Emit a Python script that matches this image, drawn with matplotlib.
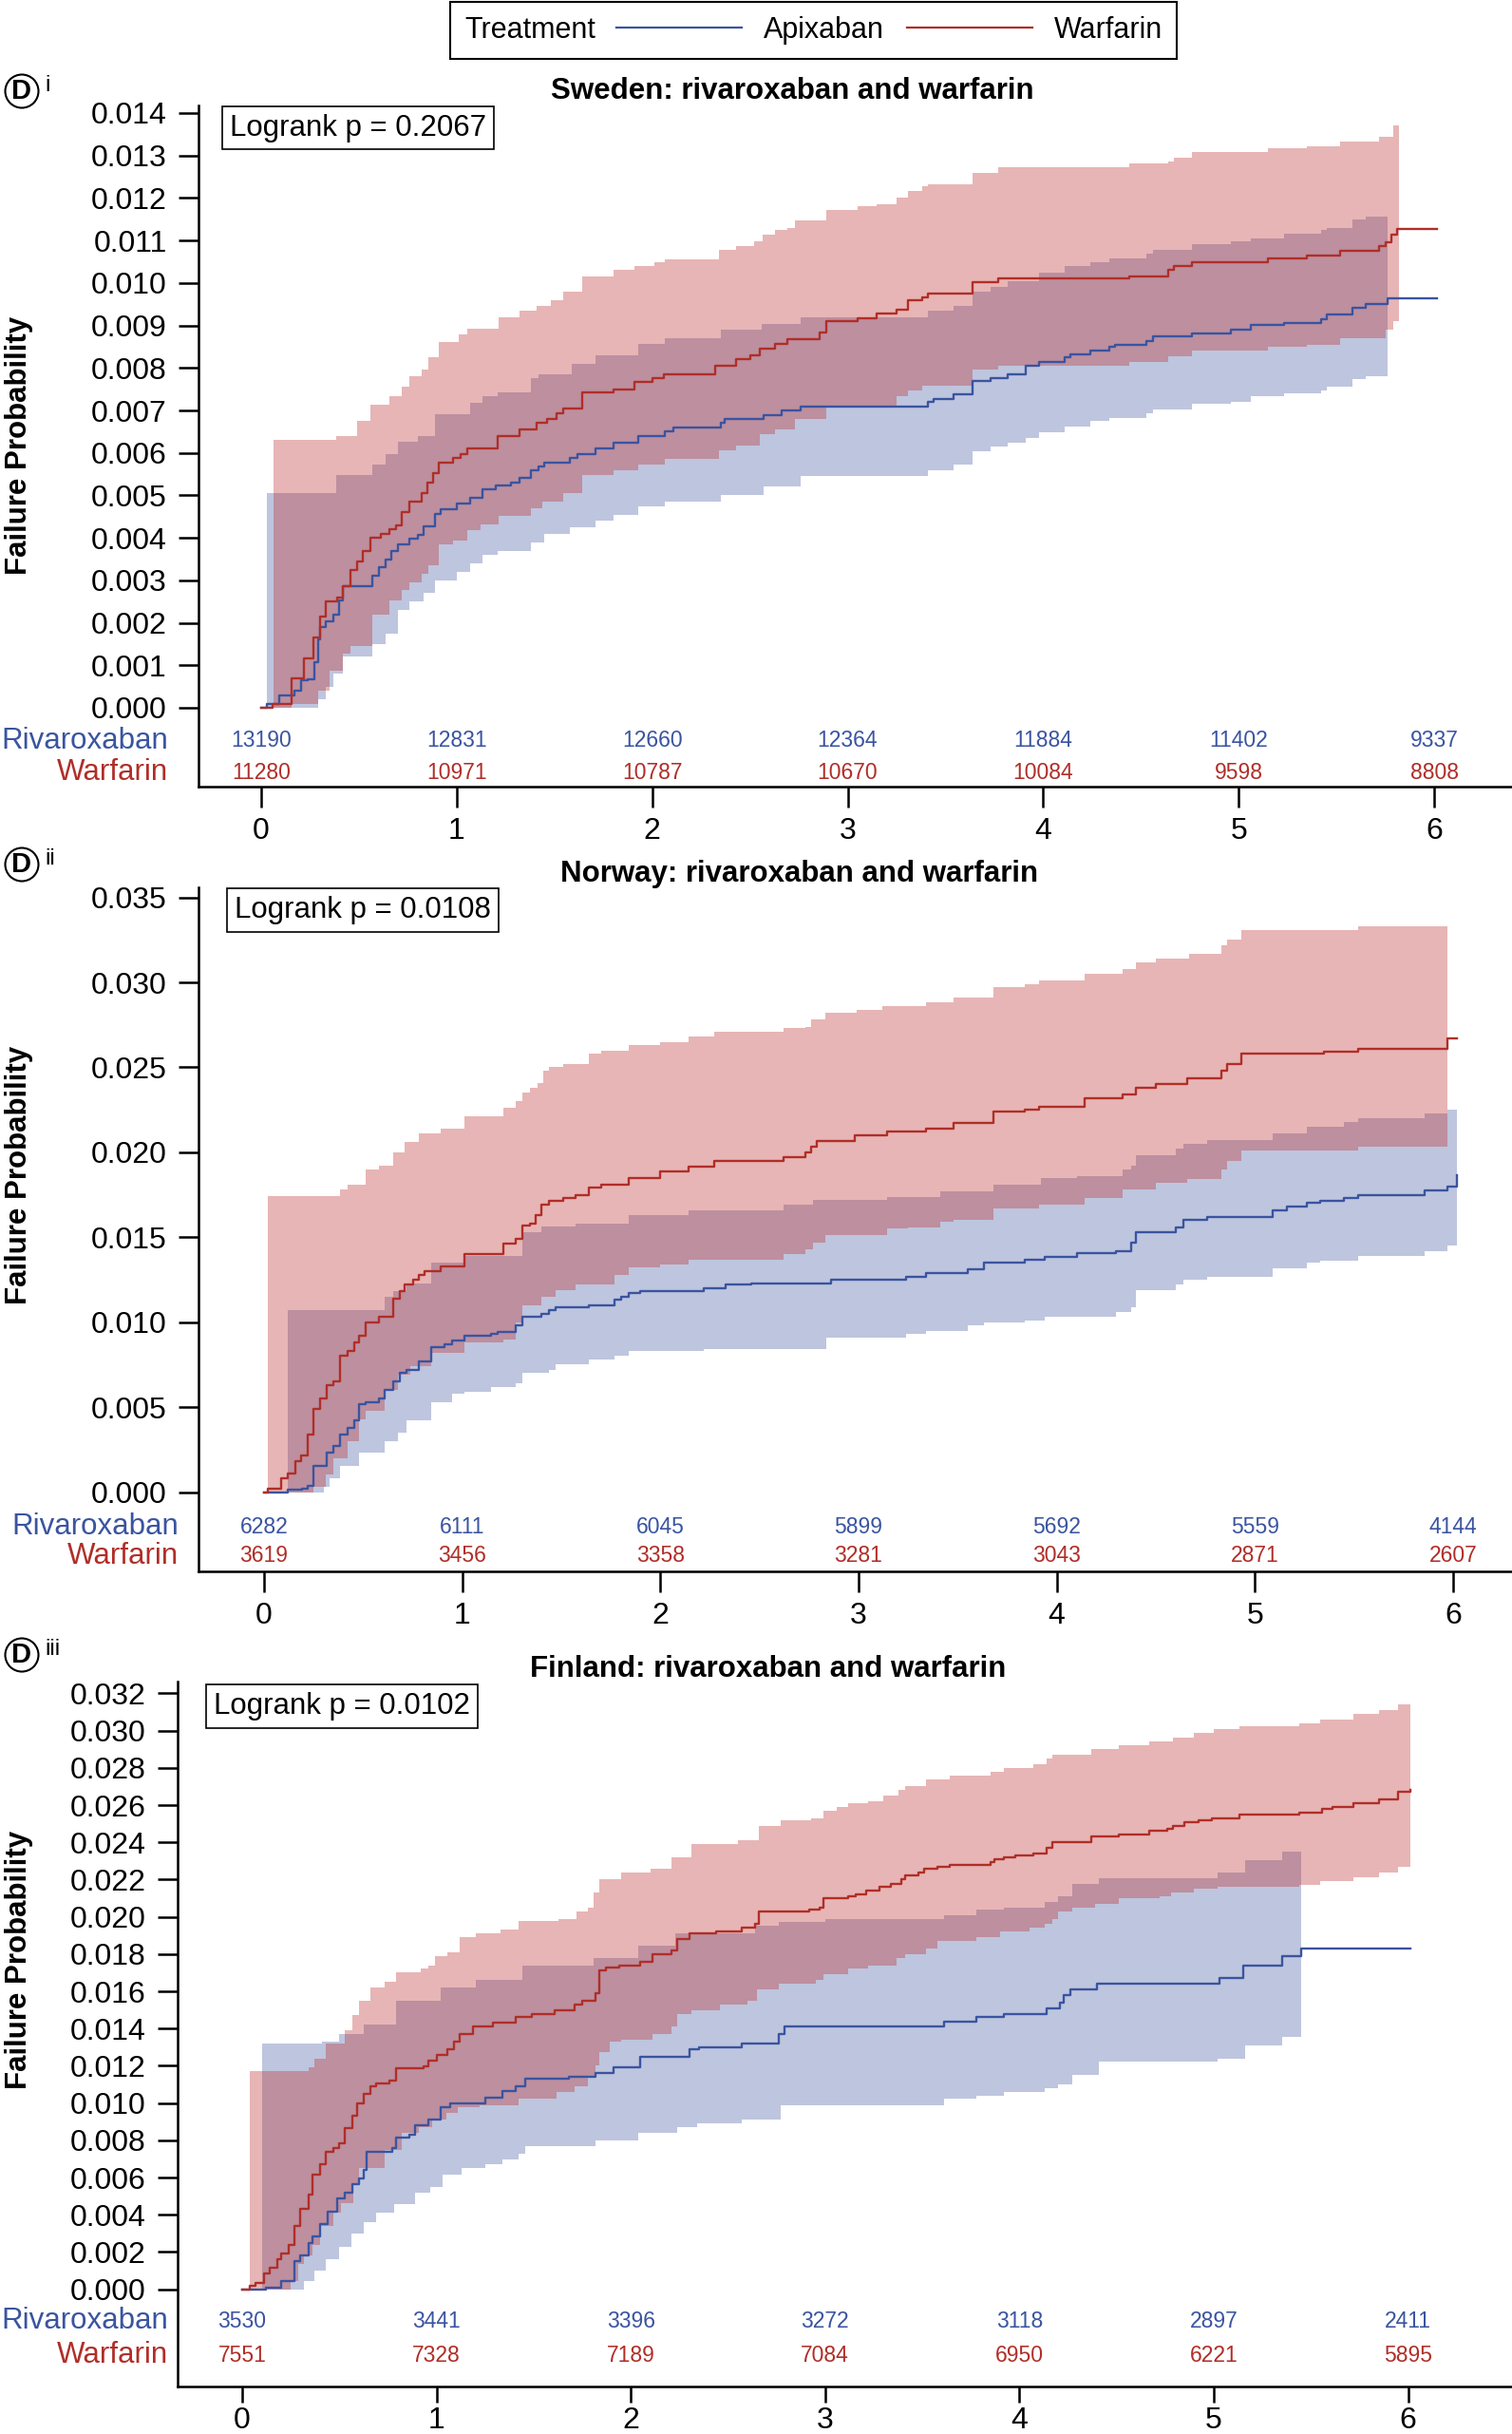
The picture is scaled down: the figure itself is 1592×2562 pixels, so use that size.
import matplotlib
matplotlib.use('Agg')
import matplotlib.pyplot as plt
import numpy as np
from matplotlib.lines import Line2D
from matplotlib.offsetbox import HPacker
from matplotlib.ticker import FormatStrFormatter

plt.rcParams['font.family'] = ['Liberation Sans', 'DejaVu Sans']

W, H = 1592, 2562
BLUE = '#3A54A0'
RED = '#B02E28'
BLUE_FILL = '#4559A1'
RED_FILL = '#BD2C2C'

years = [0, 1, 2, 3, 4, 5, 6]

# failure probability, in units of 1/1000
# ---- Sweden ----
se_war_t = [0, 0.06, 0.155, 0.22, 0.265, 0.30, 0.33, 0.39, 0.42, 0.456, 0.49, 0.52, 0.56, 0.61, 0.655,
            0.69, 0.72, 0.76, 0.82, 0.85, 0.88, 0.91, 0.98, 1.02, 1.055, 1.21, 1.32, 1.41, 1.46, 1.51,
            1.545, 1.64, 1.80, 1.91, 2.0, 2.06, 2.32, 2.43, 2.50, 2.55, 2.63, 2.69, 2.855, 2.89, 3.05,
            3.15, 3.25, 3.31, 3.38, 3.41, 3.64, 3.77, 4.44, 4.64, 4.67, 4.76, 5.15, 5.35, 5.52, 5.72,
            5.75, 5.78, 5.81]
se_war_p = [0, 0.1, 0.7, 1.16, 1.66, 2.15, 2.5, 2.6, 2.86, 3.25, 3.45, 3.7, 4.0, 4.1, 4.2,
            4.3, 4.6, 4.86, 5.05, 5.3, 5.53, 5.77, 5.88, 5.97, 6.1, 6.4, 6.55, 6.7, 6.8, 6.94,
            7.05, 7.43, 7.5, 7.67, 7.76, 7.86, 8.05, 8.2, 8.3, 8.45, 8.57, 8.68, 8.83, 9.1, 9.17,
            9.27, 9.37, 9.6, 9.67, 9.75, 10.02, 10.1, 10.16, 10.3, 10.39, 10.48, 10.58, 10.65, 10.76, 10.87,
            10.96, 11.14, 11.27]
se_war_hi_t = [0.063, 0.385, 0.49, 0.56, 0.656, 0.72, 0.76, 0.82, 0.855, 0.91, 1.01, 1.055, 1.215, 1.32,
               1.41, 1.48, 1.545, 1.64, 1.80, 1.91, 2.01, 2.065, 2.34, 2.43, 2.52, 2.565, 2.63, 2.69,
               2.73, 2.89, 3.05, 3.15, 3.25, 3.31, 3.38, 3.41, 3.64, 3.77, 4.44, 4.64, 4.67, 4.76,
               5.15, 5.35, 5.52, 5.72, 5.79]
se_war_hi = [6.3, 6.4, 6.76, 7.14, 7.34, 7.57, 7.8, 7.96, 8.25, 8.6, 8.8, 8.93, 9.2, 9.35,
             9.46, 9.6, 9.8, 10.16, 10.3, 10.4, 10.5, 10.56, 10.77, 10.87, 10.98, 11.14, 11.24, 11.3,
             11.48, 11.72, 11.8, 11.86, 12.01, 12.17, 12.28, 12.32, 12.6, 12.73, 12.81, 12.86, 12.95, 13.08,
             13.18, 13.22, 13.34, 13.44, 13.71]
se_war_lo_t = [0.063, 0.155, 0.29, 0.35, 0.42, 0.456, 0.57, 0.656, 0.72, 0.76, 0.82, 0.855, 0.91, 0.98,
               1.055, 1.12, 1.215, 1.38, 1.44, 1.545, 1.64, 1.80, 1.93, 2.065, 2.34, 2.43, 2.55, 2.63,
               2.73, 2.89, 3.25, 3.31, 3.38, 3.64, 3.77, 4.44, 4.64, 4.76, 5.15, 5.35, 5.52, 5.75, 5.79]
se_war_lo = [0, 0.1, 0.4, 0.88, 1.27, 1.46, 2.19, 2.53, 2.77, 2.96, 3.16, 3.35, 3.84, 3.94,
             4.18, 4.32, 4.52, 4.7, 4.86, 5.05, 5.48, 5.58, 5.73, 5.87, 6.06, 6.17, 6.43, 6.55,
             6.8, 7.1, 7.33, 7.47, 7.59, 7.96, 8.06, 8.14, 8.28, 8.4, 8.5, 8.55, 8.69, 8.9, 9.1]

se_riv_t = [0, 0.03, 0.09, 0.17, 0.205, 0.24, 0.27, 0.29, 0.30, 0.33, 0.37, 0.40, 0.42, 0.57, 0.60,
            0.635, 0.665, 0.70, 0.76, 0.80, 0.83, 0.89, 0.92, 1.0, 1.07, 1.13, 1.20, 1.28, 1.32, 1.38,
            1.42, 1.45, 1.58, 1.62, 1.71, 1.80, 1.93, 2.065, 2.11, 2.35, 2.37, 2.57, 2.66, 2.76, 3.41,
            3.44, 3.54, 3.64, 3.73, 3.82, 3.91, 3.98, 4.11, 4.14, 4.24, 4.34, 4.37, 4.53, 4.56, 4.76,
            4.96, 5.06, 5.23, 5.42, 5.45, 5.58, 5.65, 5.76]
se_riv_p = [0, 0.1, 0.3, 0.4, 0.64, 0.68, 1.07, 1.6, 1.9, 2.04, 2.19, 2.53, 2.86, 3.1, 3.3,
            3.5, 3.7, 3.84, 3.98, 4.08, 4.27, 4.56, 4.68, 4.8, 4.95, 5.14, 5.24, 5.29, 5.41, 5.58,
            5.68, 5.77, 5.88, 5.97, 6.11, 6.24, 6.4, 6.51, 6.6, 6.7, 6.8, 6.89, 6.99, 7.1, 7.2,
            7.26, 7.38, 7.7, 7.77, 7.86, 8.06, 8.15, 8.25, 8.33, 8.4, 8.5, 8.55, 8.64, 8.74, 8.82,
            8.9, 9.01, 9.06, 9.15, 9.25, 9.42, 9.51, 9.64]
se_riv_hi_t = [0.03, 0.385, 0.57, 0.635, 0.70, 0.80, 0.89, 1.07, 1.13, 1.21, 1.38, 1.42, 1.59, 1.71,
               1.93, 2.065, 2.35, 2.56, 2.76, 3.41, 3.54, 3.64, 3.73, 3.82, 3.98, 4.11, 4.24, 4.34,
               4.53, 4.56, 4.76, 4.96, 5.06, 5.23, 5.42, 5.45, 5.58, 5.65]
se_riv_hi = [5.05, 5.48, 5.73, 5.97, 6.26, 6.4, 6.9, 7.18, 7.34, 7.43, 7.76, 7.86, 8.1, 8.3,
             8.57, 8.69, 8.9, 9.04, 9.2, 9.34, 9.46, 9.8, 9.9, 10.04, 10.24, 10.4, 10.5, 10.58,
             10.7, 10.79, 10.92, 10.97, 11.05, 11.16, 11.24, 11.3, 11.5, 11.57]
se_riv_lo_t = [0.03, 0.29, 0.33, 0.37, 0.42, 0.57, 0.635, 0.70, 0.76, 0.83, 0.89, 1.0, 1.07, 1.13,
               1.21, 1.38, 1.45, 1.58, 1.71, 1.80, 1.93, 2.065, 2.35, 2.57, 2.76, 3.41, 3.54, 3.64,
               3.73, 3.82, 3.91, 3.98, 4.11, 4.24, 4.34, 4.53, 4.56, 4.76, 4.96, 5.06, 5.23, 5.42,
               5.45, 5.58, 5.65]
se_riv_lo = [0, 0.2, 0.5, 0.8, 1.2, 1.5, 1.75, 2.3, 2.5, 2.7, 3.0, 3.2, 3.4, 3.6,
             3.7, 3.9, 4.1, 4.25, 4.4, 4.55, 4.75, 4.85, 5.0, 5.2, 5.46, 5.58, 5.73, 6.04,
             6.14, 6.23, 6.36, 6.49, 6.62, 6.75, 6.81, 6.93, 7.03, 7.15, 7.2, 7.33, 7.4, 7.47,
             7.57, 7.74, 7.8]

# ---- Norway ----
no_war_t = [0, 0.02, 0.086, 0.12, 0.157, 0.187, 0.22, 0.25, 0.285, 0.315, 0.35, 0.385, 0.42, 0.455,
            0.48, 0.515, 0.58, 0.65, 0.685, 0.71, 0.75, 0.78, 0.81, 0.89, 1.01, 1.21, 1.27, 1.305,
            1.34, 1.37, 1.40, 1.44, 1.51, 1.57, 1.64, 1.70, 1.84, 2.0, 2.14, 2.27, 2.62, 2.73, 2.76,
            2.79, 2.98, 3.145, 3.34, 3.48, 3.68, 3.84, 3.91, 4.14, 4.33, 4.40, 4.50, 4.66, 4.83,
            4.86, 4.93, 5.35, 5.52, 5.97]
no_war_p = [0, 0.17, 0.8, 1.1, 1.8, 2.17, 3.4, 4.9, 5.5, 6.3, 6.5, 8.0, 8.3, 8.8,
            9.2, 10.0, 10.3, 11.4, 11.8, 12.2, 12.5, 12.8, 13.0, 13.3, 14.0, 14.6, 14.9, 15.7,
            15.8, 16.3, 16.9, 17.15, 17.3, 17.5, 17.9, 18.1, 18.5, 18.9, 19.15, 19.5, 19.7, 20.0, 20.3,
            20.65, 20.97, 21.2, 21.4, 21.7, 22.4, 22.5, 22.7, 23.2, 23.4, 23.8, 24.0, 24.34, 24.8,
            25.2, 25.8, 25.9, 26.07, 26.7]
no_war_hi_t = [0.02, 0.385, 0.42, 0.515, 0.58, 0.65, 0.71, 0.78, 0.89, 1.01, 1.21, 1.27, 1.305, 1.34,
               1.38, 1.41, 1.44, 1.51, 1.64, 1.70, 1.84, 2.0, 2.14, 2.27, 2.62, 2.73, 2.76, 2.83,
               2.99, 3.12, 3.34, 3.48, 3.68, 3.84, 3.91, 4.14, 4.33, 4.40, 4.50, 4.67, 4.83, 4.86,
               4.93, 5.52]
no_war_hi = [17.4, 17.8, 18.1, 19.0, 19.2, 20.0, 20.6, 21.1, 21.4, 22.1, 22.6, 23.0, 23.5, 23.8,
             24.1, 24.8, 25.0, 25.2, 25.8, 26.0, 26.3, 26.5, 26.8, 27.1, 27.3, 27.4, 27.8, 28.2,
             28.4, 28.6, 28.8, 29.1, 29.7, 29.9, 30.1, 30.5, 30.8, 31.2, 31.4, 31.7, 32.2, 32.5,
             33.1, 33.3]
no_war_lo_t = [0.02, 0.25, 0.31, 0.35, 0.42, 0.48, 0.515, 0.61, 0.675, 0.74, 0.845, 1.01, 1.21, 1.27,
               1.305, 1.40, 1.47, 1.57, 1.77, 1.84, 2.0, 2.14, 2.62, 2.73, 2.77, 2.83, 3.145, 3.25,
               3.41, 3.48, 3.68, 3.91, 4.14, 4.33, 4.50, 4.66, 4.83, 4.86, 4.93, 5.52]
no_war_lo = [0, 0.3, 1.05, 2.0, 3.0, 4.3, 4.8, 6.0, 6.9, 7.4, 8.2, 8.8, 9.0, 10.0,
             11.0, 11.5, 11.9, 12.2, 12.8, 13.2, 13.4, 13.7, 14.0, 14.3, 14.7, 15.15, 15.5, 15.6,
             15.9, 16.0, 16.7, 16.9, 17.3, 17.8, 18.2, 18.4, 19.0, 19.5, 20.1, 20.3]

no_riv_t = [0, 0.12, 0.19, 0.22, 0.25, 0.315, 0.35, 0.385, 0.42, 0.455, 0.48, 0.515, 0.58, 0.61,
            0.65, 0.685, 0.72, 0.78, 0.845, 0.91, 0.95, 1.01, 1.145, 1.18, 1.27, 1.305, 1.40, 1.44,
            1.47, 1.64, 1.77, 1.80, 1.84, 1.90, 2.22, 2.33, 2.46, 2.86, 3.24, 3.34, 3.55, 3.634,
            3.84, 3.94, 4.10, 4.30, 4.375, 4.40, 4.60, 4.64, 4.76, 5.09, 5.16, 5.26, 5.33, 5.45,
            5.52, 5.855, 5.97, 6.02]
no_riv_p = [0, 0.12, 0.17, 0.35, 1.55, 2.3, 2.7, 3.4, 3.8, 4.2, 5.2, 5.3, 5.5, 6.0,
            6.5, 7.0, 7.2, 7.7, 8.5, 8.7, 8.9, 9.2, 9.3, 9.4, 9.8, 10.3, 10.5, 10.7,
            10.9, 11.0, 11.3, 11.5, 11.7, 11.8, 12.0, 12.2, 12.3, 12.5, 12.65, 12.9, 13.1, 13.5,
            13.7, 13.86, 14.07, 14.2, 14.7, 15.3, 15.6, 16.0, 16.2, 16.6, 16.8, 17.0, 17.15, 17.3,
            17.5, 17.78, 18.0, 18.65]
no_riv_hi_t = [0.12, 0.61, 0.65, 0.72, 0.845, 1.01, 1.305, 1.40, 1.57, 1.84, 2.14, 2.62, 2.77, 3.145,
               3.41, 3.68, 3.92, 4.10, 4.33, 4.375, 4.40, 4.60, 4.64, 4.76, 5.09, 5.26, 5.45, 5.52,
               5.855, 5.97]
no_riv_hi = [10.7, 11.5, 11.8, 12.3, 13.5, 13.9, 15.3, 15.65, 15.8, 16.3, 16.6, 16.9, 17.2, 17.38,
             17.7, 18.1, 18.5, 18.6, 19.0, 19.2, 19.8, 20.2, 20.5, 20.7, 21.1, 21.5, 21.8, 21.98,
             22.3, 22.5]
no_riv_lo_t = [0.12, 0.30, 0.33, 0.385, 0.48, 0.61, 0.675, 0.72, 0.845, 0.95, 1.01, 1.145, 1.27, 1.305,
               1.44, 1.47, 1.64, 1.77, 1.84, 2.22, 2.835, 3.24, 3.34, 3.55, 3.634, 3.84, 3.94, 4.30,
               4.375, 4.40, 4.60, 4.64, 4.76, 5.09, 5.26, 5.33, 5.52, 5.855, 5.97]
no_riv_lo = [0, 0.3, 0.8, 1.55, 2.3, 3.0, 3.5, 4.2, 5.3, 5.8, 5.9, 6.2, 6.4, 7.0,
             7.2, 7.5, 7.8, 8.0, 8.3, 8.4, 9.1, 9.3, 9.5, 9.8, 10.0, 10.1, 10.3, 10.6,
             10.9, 11.9, 12.2, 12.5, 12.65, 13.15, 13.5, 13.6, 13.9, 14.2, 14.5]

# ---- Finland ----
fi_war_t = [0, 0.04, 0.07, 0.11, 0.14, 0.18, 0.20, 0.24, 0.27, 0.30,
            0.34, 0.36, 0.40, 0.43, 0.47, 0.50, 0.53, 0.565, 0.59, 0.625,
            0.66, 0.69, 0.76, 0.79, 0.935, 0.96, 1.0, 1.055, 1.09, 1.12,
            1.19, 1.29, 1.41, 1.49, 1.61, 1.71, 1.75, 1.82, 1.84, 1.87,
            1.94, 2.05, 2.11, 2.21, 2.24, 2.30, 2.44, 2.57, 2.64, 2.66,
            2.92, 2.97, 2.99, 3.12, 3.16, 3.21, 3.28, 3.34, 3.39, 3.41,
            3.48, 3.51, 3.58, 3.64, 3.85, 3.87, 3.92, 3.98, 4.07, 4.14,
            4.17, 4.37, 4.51, 4.67, 4.76, 4.79, 4.85, 4.92, 4.99, 5.13,
            5.44, 5.56, 5.61, 5.72, 5.85, 5.95, 6.01]
fi_war_p = [0, 0.18, 0.34, 0.87, 1.14, 1.6, 1.94, 2.4, 3.4, 4.3,
            5.1, 6.15, 6.7, 7.4, 7.56, 7.86, 8.66, 9.34, 10.0, 10.5,
            10.9, 11.05, 11.2, 11.85, 11.96, 12.3, 12.6, 12.9, 13.3, 13.7,
            14.1, 14.3, 14.6, 14.8, 15.0, 15.3, 15.5, 15.9, 17.1, 17.3,
            17.4, 17.6, 18.0, 18.2, 18.8, 19.1, 19.2, 19.4, 19.6, 20.3,
            20.4, 20.5, 21.0, 21.1, 21.2, 21.4, 21.6, 21.75, 22.0, 22.25,
            22.4, 22.6, 22.7, 22.8, 22.96, 23.1, 23.2, 23.3, 23.4, 23.7,
            24.0, 24.3, 24.4, 24.6, 24.7, 24.9, 25.1, 25.2, 25.3, 25.5,
            25.6, 25.8, 25.9, 26.1, 26.3, 26.7, 26.8]
fi_war_hi_t = [0.04, 0.34, 0.37, 0.43, 0.53, 0.565, 0.60, 0.66, 0.735, 0.79,
               0.92, 0.96, 0.99, 1.055, 1.12, 1.20, 1.33, 1.42, 1.63, 1.72,
               1.78, 1.81, 1.84, 1.95, 2.10, 2.21, 2.31, 2.55, 2.66, 2.77,
               2.93, 2.99, 3.06, 3.12, 3.22, 3.30, 3.38, 3.41, 3.52, 3.64,
               3.85, 3.92, 4.07, 4.14, 4.17, 4.37, 4.51, 4.67, 4.79, 4.90,
               5.00, 5.13, 5.44, 5.55, 5.72, 5.85, 5.95]
fi_war_hi = [11.7, 11.9, 12.4, 13.2, 13.9, 14.7, 15.5, 16.2, 16.5, 17.0,
             17.2, 17.4, 17.9, 18.1, 18.9, 19.1, 19.3, 19.8, 19.9, 20.3,
             20.5, 21.3, 22.0, 22.4, 22.6, 23.2, 23.9, 24.1, 24.9, 25.2,
             25.3, 25.7, 25.9, 26.1, 26.2, 26.5, 26.8, 27.0, 27.4, 27.6,
             27.8, 28.0, 28.2, 28.5, 28.7, 29.0, 29.2, 29.4, 29.6, 29.9,
             30.1, 30.25, 30.4, 30.6, 30.9, 31.1, 31.4]
fi_war_lo_t = [0.04, 0.25, 0.29, 0.32, 0.36, 0.40, 0.47, 0.51, 0.57, 0.60,
               0.735, 0.82, 0.91, 0.98, 1.05, 1.11, 1.22, 1.42, 1.62, 1.71,
               1.78, 1.82, 1.84, 1.89, 1.95, 2.11, 2.21, 2.24, 2.31, 2.46,
               2.60, 2.65, 2.76, 2.95, 2.99, 3.12, 3.22, 3.37, 3.41, 3.52,
               3.58, 3.78, 3.90, 4.05, 4.13, 4.17, 4.20, 4.27, 4.39, 4.51,
               4.72, 4.78, 4.90, 5.02, 5.44, 5.55, 5.72, 5.85, 5.95]
fi_war_lo = [0, 0.45, 1.37, 1.8, 2.4, 3.4, 4.1, 4.6, 5.7, 6.5,
             7.5, 8.4, 8.7, 9.1, 9.45, 9.8, 9.9, 10.25, 10.6, 10.9,
             11.4, 12.0, 12.75, 13.3, 13.4, 13.7, 14.1, 14.8, 15.0, 15.3,
             15.5, 16.1, 16.4, 16.6, 16.9, 17.2, 17.4, 17.8, 18.0, 18.3,
             18.7, 18.9, 19.2, 19.4, 19.6, 19.9, 20.3, 20.5, 20.7, 21.0,
             21.1, 21.3, 21.5, 21.6, 21.7, 21.9, 22.1, 22.4, 22.7]

fi_riv_t = [0, 0.12, 0.20, 0.27, 0.30, 0.34, 0.36, 0.40, 0.44, 0.49,
            0.53, 0.565, 0.60, 0.625, 0.64, 0.77, 0.79, 0.86, 0.89, 0.96,
            1.02, 1.07, 1.25, 1.34, 1.41, 1.455, 1.68, 1.82, 1.91, 2.05,
            2.30, 2.35, 2.57, 2.76, 2.79, 3.61, 3.78, 3.92, 4.14, 4.21,
            4.23, 4.26, 4.40, 5.03, 5.15, 5.35, 5.45]
fi_riv_p = [0, 0.07, 0.45, 1.5, 1.8, 2.5, 2.85, 3.5, 4.15, 4.9,
            5.2, 5.65, 5.97, 6.4, 7.4, 7.6, 8.15, 8.3, 8.8, 9.1,
            9.8, 10.0, 10.3, 10.66, 10.9, 11.3, 11.4, 11.6, 11.9, 12.5,
            12.9, 13.0, 13.2, 13.7, 14.1, 14.35, 14.6, 14.8, 15.1, 15.4,
            15.8, 16.1, 16.4, 16.7, 17.4, 17.9, 18.3]
fi_riv_hi_t = [0.105, 0.41, 0.5, 0.625, 0.79, 1.02, 1.2, 1.44, 1.81, 2.04,
               2.23, 2.64, 2.76, 3.0, 3.61, 3.78, 3.92, 4.13, 4.20, 4.27,
               4.41, 5.02, 5.16, 5.35]
fi_riv_hi = [13.2, 13.3, 13.7, 14.2, 15.5, 16.2, 16.6, 17.4, 17.8, 18.45,
             19.1, 19.5, 19.7, 19.9, 20.1, 20.4, 20.5, 20.8, 21.1, 21.75,
             22.05, 22.4, 23.05, 23.5]
fi_riv_lo_t = [0.105, 0.32, 0.37, 0.43, 0.50, 0.56, 0.625, 0.69, 0.78, 0.89,
               0.97, 1.03, 1.13, 1.25, 1.34, 1.42, 1.455, 1.82, 2.04, 2.24,
               2.34, 2.57, 2.77, 3.61, 3.78, 3.92, 4.13, 4.20, 4.27, 4.41,
               5.02, 5.16, 5.35]
fi_riv_lo = [0, 0.45, 1.0, 1.6, 2.3, 3.0, 3.6, 4.1, 4.55, 5.2,
             5.5, 6.15, 6.5, 6.7, 6.95, 7.3, 7.7, 8.0, 8.4, 8.7,
             8.9, 9.1, 9.9, 10.25, 10.4, 10.6, 10.8, 11.0, 11.5, 12.2,
             12.4, 13.1, 13.55]

# numbers at risk
se_riv_n = [13190, 12831, 12660, 12364, 11884, 11402, 9337]
se_war_n = [11280, 10971, 10787, 10670, 10084, 9598, 8808]
no_riv_n = [6282, 6111, 6045, 5899, 5692, 5559, 4144]
no_war_n = [3619, 3456, 3358, 3281, 3043, 2871, 2607]
fi_riv_n = [3530, 3441, 3396, 3272, 3118, 2897, 2411]
fi_war_n = [7551, 7328, 7189, 7084, 6950, 6221, 5895]

panels = [
    dict(title='Sweden: rivaroxaban and warfarin', tag='i', p='0.2067',
         riv=(se_riv_t, se_riv_p, 6.015), riv_ci=(se_riv_hi_t, se_riv_hi, se_riv_lo_t, se_riv_lo, 5.76),
         war=(se_war_t, se_war_p, 6.015), war_ci=(se_war_hi_t, se_war_hi, se_war_lo_t, se_war_lo, 5.82),
         riv_n=se_riv_n, war_n=se_war_n, ymax=0.014, ystep=0.001,
         # pixel layout: axes box, x of t=0 / t=6, y of p=0 / p=ymax
         box=(209, 111, 1592, 828), x0=275, x6=1510, y0=745, ytop=119,
         rows=(780, 813), lab_r=177, title_xy=(834, 96), tag_y=96, ylab_y=469,
         p_xy=(242, 134.5), tick_len=16, tick_pad=7),
    dict(title='Norway: rivaroxaban and warfarin', tag='ii', p='0.0108',
         riv=(no_riv_t, no_riv_p, 6.02), riv_ci=(no_riv_hi_t, no_riv_hi, no_riv_lo_t, no_riv_lo, 6.02),
         war=(no_war_t, no_war_p, 6.02), war_ci=(no_war_hi_t, no_war_hi, no_war_lo_t, no_war_lo, 5.97),
         riv_n=no_riv_n, war_n=no_war_n, ymax=0.035, ystep=0.005,
         box=(209, 934, 1592, 1654), x0=278, x6=1530, y0=1570.5, ytop=944.6,
         rows=(1607, 1638), lab_r=188, title_xy=(842, 920), tag_y=910, ylab_y=1237,
         p_xy=(247, 958), tick_len=16, tick_pad=7),
    dict(title='Finland: rivaroxaban and warfarin', tag='iii', p='0.0102',
         riv=(fi_riv_t, fi_riv_p, 6.01), riv_ci=(fi_riv_hi_t, fi_riv_hi, fi_riv_lo_t, fi_riv_lo, 5.45),
         war=(fi_war_t, fi_war_p, 6.01), war_ci=(fi_war_hi_t, fi_war_hi, fi_war_lo_t, fi_war_lo, 6.01),
         riv_n=fi_riv_n, war_n=fi_war_n, ymax=0.032, ystep=0.002,
         box=(187, 1770, 1592, 2512), x0=255, x6=1482.5, y0=2409.6, ytop=1782.4,
         rows=(2443, 2479), lab_r=177, title_xy=(809, 1757), tag_y=1742, ylab_y=2063,
         p_xy=(225, 1796), tick_len=12, tick_pad=3),
]


def step_at(t, v, grid):
    idx = np.searchsorted(t, grid, side='right') - 1
    return np.asarray(v)[np.clip(idx, 0, None)]


def draw_band(ax, ci, color):
    hi_t, hi, lo_t, lo, t_end = ci
    grid = np.union1d(hi_t, lo_t)
    grid = np.append(grid, t_end)
    upper = step_at(hi_t, hi, grid) / 1000
    lower = step_at(lo_t, lo, grid) / 1000
    ax.fill_between(grid, lower, upper, step='post', color=color, alpha=0.35, lw=0)


def draw_curve(ax, curve, color):
    t, v, t_end = curve
    ax.step(np.append(t, t_end), np.append(v, v[-1]) / 1000, where='post', color=color, lw=1.7)


fig = plt.figure(figsize=(W / 100, H / 100), dpi=100)

for p in panels:
    l, t, r, b = p['box']
    ax = fig.add_axes([l / W, 1 - b / H, (r - l) / W, (b - t) / H])
    sx = (p['x6'] - p['x0']) / 6
    sy = (p['y0'] - p['ytop']) / p['ymax']
    ax.set_xlim((l - p['x0']) / sx, (r - p['x0']) / sx)
    ax.set_ylim((p['y0'] - b) / sy, (p['y0'] - t) / sy)

    draw_band(ax, p['riv_ci'], BLUE_FILL)
    draw_band(ax, p['war_ci'], RED_FILL)
    draw_curve(ax, p['riv'], BLUE)
    draw_curve(ax, p['war'], RED)

    for s in ['top', 'right']:
        ax.spines[s].set_visible(False)
    for s in ['left', 'bottom']:
        ax.spines[s].set_linewidth(1.8)
    ax.set_yticks(np.arange(0, p['ymax'] + p['ystep'] / 2, p['ystep']))
    ax.yaxis.set_major_formatter(FormatStrFormatter('%.3f'))
    ax.set_xticks(years)
    ax.tick_params(axis='y', length=15, width=1.8, pad=9, labelsize=23)
    ax.tick_params(axis='x', length=p['tick_len'], width=1.8, pad=p['tick_pad'], labelsize=23)

    # numbers at risk
    y_riv = (p['y0'] - p['rows'][0]) / sy
    y_war = (p['y0'] - p['rows'][1]) / sy
    for yr, nr, nw in zip(years, p['riv_n'], p['war_n']):
        ax.text(yr, y_riv, str(nr), ha='center', va='center', fontsize=16.5, color=BLUE)
        ax.text(yr, y_war, str(nw), ha='center', va='center', fontsize=16.5, color=RED)
    xl = (p['lab_r'] - p['x0']) / sx
    ax.text(xl, y_riv, 'Rivaroxaban', ha='right', va='center', fontsize=22.5, color=BLUE)
    ax.text(xl, y_war, 'Warfarin', ha='right', va='center', fontsize=22.5, color=RED)

    fig.text(p['title_xy'][0] / W, 1 - p['title_xy'][1] / H, p['title'], ha='center', va='center',
             fontsize=22.5, fontweight='bold')
    fig.text(20 / W, 1 - p['ylab_y'] / H, 'Failure Probability', rotation=90, ha='center', va='center',
             fontsize=22.5, fontweight='bold')
    fig.text(p['p_xy'][0] / W, 1 - p['p_xy'][1] / H, 'Logrank p = ' + p['p'], ha='left', va='center',
             fontsize=22.5, bbox=dict(boxstyle='square,pad=0.25', fc='white', ec='black', lw=1.2))
    fig.text(23 / W, 1 - p['tag_y'] / H, 'D', ha='center', va='center', fontsize=21, fontweight='bold',
             bbox=dict(boxstyle='circle,pad=0.12', fc='none', ec='black', lw=1.5))
    fig.text(47 / W, 1 - (p['tag_y'] - 6) / H, p['tag'], ha='left', va='center', fontsize=17)

# legend on one row: "Treatment  ---- Apixaban  ---- Warfarin"
h_blue = Line2D([], [], color=BLUE, lw=1.6)
h_red = Line2D([], [], color=RED, lw=1.6)
leg = fig.legend([h_blue, h_red], ['Apixaban', 'Warfarin'], title='Treatment', ncol=2,
                 loc='center', bbox_to_anchor=(856.5 / W, 1 - 32 / H),
                 fontsize=22, title_fontsize=22, fancybox=False, edgecolor='black', framealpha=1,
                 handlelength=4.3, handletextpad=0.75, columnspacing=0.8, borderpad=0.5)
leg.get_frame().set_linewidth(1.5)
row = HPacker(pad=leg.borderpad * leg._fontsize, sep=16, align='center',
              children=[leg._legend_title_box, leg._legend_handle_box])
row.set_figure(fig)
row.set_offset(leg._findoffset)
leg._legend_box = row

fig.savefig('out.png', dpi=100)
